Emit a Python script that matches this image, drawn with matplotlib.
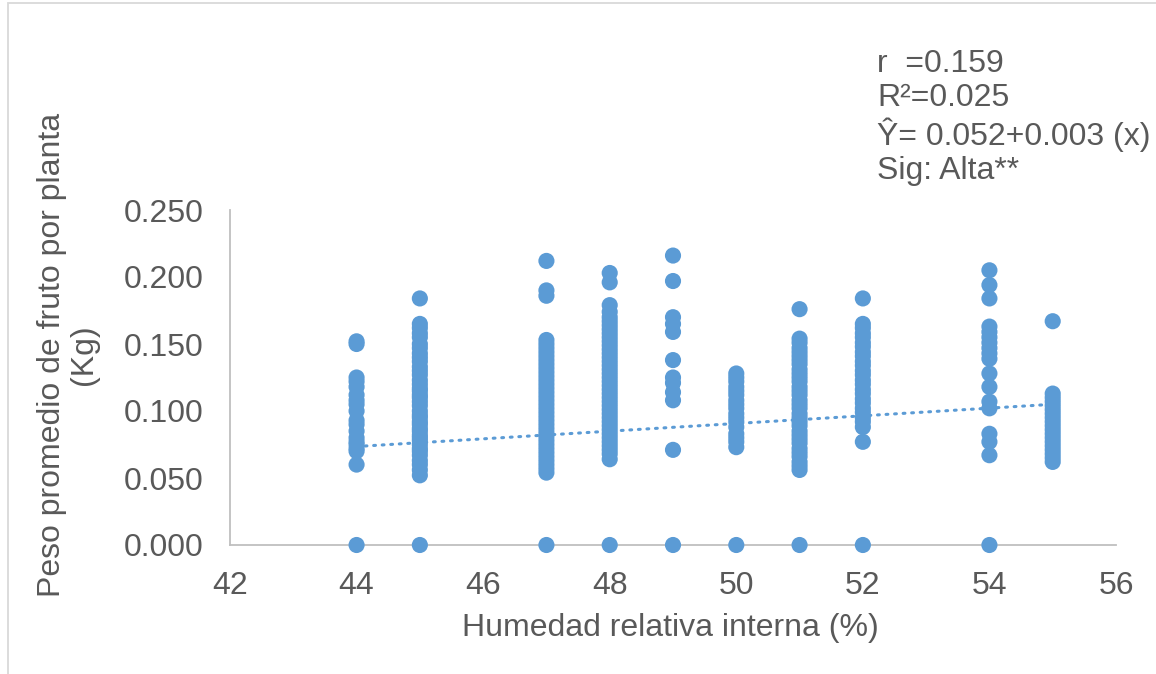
import matplotlib
matplotlib.use("Agg")
import matplotlib.pyplot as plt
from matplotlib.patches import Rectangle

# humedad relativa interna (%) y peso promedio de fruto (kg) por grupo
hr_44 = [0.152, 0.150, 0.125, 0.122, 0.118, 0.112, 0.108, 0.105, 0.100, 0.093,
         0.090, 0.085, 0.080, 0.077, 0.075, 0.072, 0.070, 0.060, 0.0]
hr_45 = [0.184, 0.165, 0.162, 0.158, 0.155, 0.150, 0.147, 0.143, 0.140, 0.137,
         0.133, 0.130, 0.127, 0.123, 0.120, 0.117, 0.115, 0.112, 0.110, 0.107,
         0.104, 0.100, 0.097, 0.095, 0.092, 0.090, 0.087, 0.085, 0.082, 0.080,
         0.078, 0.075, 0.072, 0.070, 0.067, 0.063, 0.060, 0.056, 0.052, 0.0]
hr_47 = [0.212, 0.190, 0.186, 0.153, 0.150, 0.147, 0.144, 0.141, 0.138, 0.135,
         0.132, 0.129, 0.126, 0.123, 0.120, 0.117, 0.114, 0.111, 0.108, 0.105,
         0.102, 0.099, 0.096, 0.093, 0.090, 0.087, 0.084, 0.081, 0.078, 0.075,
         0.072, 0.069, 0.066, 0.063, 0.060, 0.057, 0.054, 0.0]
hr_48 = [0.203, 0.196, 0.179, 0.174, 0.170, 0.167, 0.164, 0.161, 0.158, 0.155,
         0.152, 0.149, 0.146, 0.143, 0.140, 0.137, 0.134, 0.131, 0.128, 0.125,
         0.122, 0.119, 0.116, 0.113, 0.110, 0.107, 0.104, 0.101, 0.098, 0.095,
         0.092, 0.089, 0.086, 0.083, 0.080, 0.077, 0.074, 0.071, 0.068, 0.064,
         0.0]
hr_49 = [0.216, 0.197, 0.170, 0.165, 0.159, 0.138, 0.125, 0.121, 0.114, 0.108,
         0.071, 0.0]
hr_50 = [0.128, 0.125, 0.122, 0.118, 0.115, 0.112, 0.108, 0.105, 0.102, 0.098,
         0.095, 0.092, 0.088, 0.083, 0.080, 0.077, 0.073, 0.0]
hr_51 = [0.176, 0.154, 0.151, 0.147, 0.144, 0.141, 0.138, 0.135, 0.131, 0.128,
         0.125, 0.122, 0.118, 0.115, 0.112, 0.108, 0.105, 0.102, 0.098, 0.095,
         0.092, 0.089, 0.085, 0.082, 0.079, 0.076, 0.072, 0.069, 0.066, 0.062,
         0.059, 0.056, 0.0]
hr_52 = [0.184, 0.165, 0.162, 0.158, 0.155, 0.151, 0.148, 0.144, 0.141, 0.137,
         0.134, 0.130, 0.127, 0.123, 0.120, 0.116, 0.113, 0.109, 0.106, 0.102,
         0.099, 0.095, 0.092, 0.088, 0.077, 0.0]
hr_54 = [0.205, 0.194, 0.184, 0.163, 0.159, 0.155, 0.151, 0.147, 0.143, 0.139,
         0.128, 0.118, 0.107, 0.102, 0.083, 0.077, 0.067, 0.0]
hr_55 = [0.167, 0.113, 0.110, 0.107, 0.104, 0.101, 0.098, 0.095, 0.092, 0.089,
         0.086, 0.083, 0.080, 0.077, 0.074, 0.071, 0.068, 0.065, 0.062]

groups = {44: hr_44, 45: hr_45, 47: hr_47, 48: hr_48, 49: hr_49,
          50: hr_50, 51: hr_51, 52: hr_52, 54: hr_54, 55: hr_55}

# linea de tendencia (lineal)
trend_x = [44, 55]
trend_y = [0.0735, 0.1050]

stats_text = "r  =0.159\nR²=0.025\nŶ= 0.052+0.003 (x)\nSig: Alta**"

BLUE = "#5B9BD5"
GRAY_TXT = "#595959"
GRAY_AX = "#BFBFBF"
FS = 23

plt.rcParams["font.family"] = ["Liberation Sans", "DejaVu Sans"]

W, H = 1156, 674
fig = plt.figure(figsize=(W / 100, H / 100), dpi=100)
ax = fig.add_axes([230 / W, 1 - 545 / H, (1116 - 230) / W, (545 - 210) / H])

xs, ys = [], []
for x, vals in groups.items():
    xs += [x] * len(vals)
    ys += vals
ax.scatter(xs, ys, s=135, color=BLUE, edgecolors="none", zorder=3, clip_on=False)
ax.plot(trend_x, trend_y, color=BLUE, lw=2.2, linestyle=(0, (0.6, 2.2)),
        dash_capstyle="round", zorder=2)

ax.set_xlim(42, 56)
ax.set_ylim(0, 0.25)
ax.set_xticks(range(42, 57, 2))
ax.set_yticks([0, 0.05, 0.1, 0.15, 0.2, 0.25])
ax.set_yticklabels([f"{v:.3f}" for v in [0, 0.05, 0.1, 0.15, 0.2, 0.25]])
ax.tick_params(length=0, labelsize=FS, colors=GRAY_TXT)
ax.tick_params(axis="x", pad=19)
ax.tick_params(axis="y", pad=19)
for side in ["top", "right"]:
    ax.spines[side].set_visible(False)
for side in ["left", "bottom"]:
    ax.spines[side].set_color(GRAY_AX)
    ax.spines[side].set_linewidth(1.3)

fig.text(670 / W, 1 - 628 / H, "Humedad relativa interna (%)", fontsize=FS,
         color=GRAY_TXT, ha="center", va="center")
fig.text(68 / W, 1 - 355 / H, "Peso promedio de fruto por planta\n(Kg)",
         fontsize=FS, color=GRAY_TXT, ha="center", va="center", rotation=90,
         multialignment="center", linespacing=1.05)
fig.text(877 / W, 1 - 49 / H, stats_text, fontsize=FS, color=GRAY_TXT,
         ha="left", va="top", linespacing=1.17)

# marco del area del grafico
fig.patches.append(Rectangle((8 / W, -0.01), 1.0, 1 - 3 / H + 0.01,
                             transform=fig.transFigure, fill=False,
                             edgecolor="#D9D9D9", lw=1.3))

fig.savefig("out.png", dpi=100)
